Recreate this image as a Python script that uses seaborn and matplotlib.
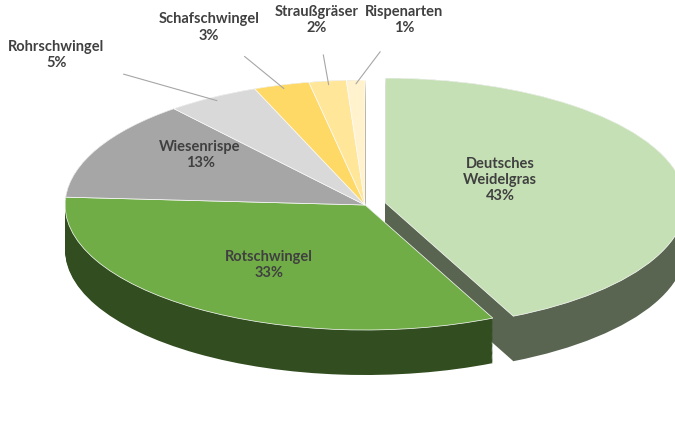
import numpy as np
import matplotlib
matplotlib.use("Agg")
import matplotlib.pyplot as plt
import matplotlib.colors as mcolors
import seaborn as sns

# Anteile der Grasarten in der Mischung
arten = ["Deutsches\nWeidelgras", "Rotschwingel", "Wiesenrispe", "Rohrschwingel",
         "Schafschwingel", "Straußgräser", "Rispenarten"]
anteile = [43, 33, 13, 5, 3, 2, 1]
farben = ["#c5e0b4", "#70ad47", "#a6a6a6", "#d9d9d9", "#ffd966", "#ffe699", "#fff2cc"]
explode = [0.07, 0, 0, 0, 0, 0, 0]

sns.set_style("white")
plt.rcParams['font.family'] = ['Lato', 'DejaVu Sans']

fig = plt.figure(figsize=(6.75, 4.34), dpi=100)
ax = fig.add_axes([0, 0, 1, 1])
ax.set_axis_off()

# Seitenflaechen: mehrere dunklere Lagen nach unten versetzt
dunkel = [tuple(c * 0.45 for c in mcolors.to_rgb(f)) for f in farben]
for d in np.linspace(0.36, 0.0, 40):
    ax.pie(anteile, colors=dunkel, startangle=90, counterclock=False,
           explode=explode, center=(0, -d), radius=1, frame=True,
           wedgeprops=dict(linewidth=0))
wedges, _ = ax.pie(anteile, colors=farben, startangle=90, counterclock=False,
                   explode=explode, center=(0, 0), radius=1, frame=True,
                   wedgeprops=dict(linewidth=0.5, edgecolor="white"))
ax.set_aspect("auto")
ax.set_xlim(-1.217, 1.033)
ax.set_ylim(-1.832, 1.64)
ax.set_axis_off()

txt = dict(ha="center", va="center", fontsize=10.5, fontweight="bold", color="#404040")
innen = {0: (0.45, 0.2), 1: (-0.32, -0.48), 2: (-0.55, 0.4)}
aussen = {3: (-1.03, 1.2), 4: (-0.52, 1.42), 5: (-0.16, 1.48), 6: (0.13, 1.48)}
for i, (name, wert) in enumerate(zip(arten, anteile)):
    label = f"{name}\n{wert}%"
    if i in innen:
        ax.text(*innen[i], label, **txt)
    else:
        w = wedges[i]
        mid = np.deg2rad((w.theta1 + w.theta2) / 2)
        px, py = 0.97 * np.cos(mid), 0.97 * np.sin(mid)
        tx, ty = aussen[i]
        ax.annotate(label, xy=(px, py), xytext=(tx, ty), **txt,
                    arrowprops=dict(arrowstyle="-", color="#a6a6a6", lw=0.8,
                                    shrinkA=12, shrinkB=0))

fig.savefig("out.png", dpi=100)
